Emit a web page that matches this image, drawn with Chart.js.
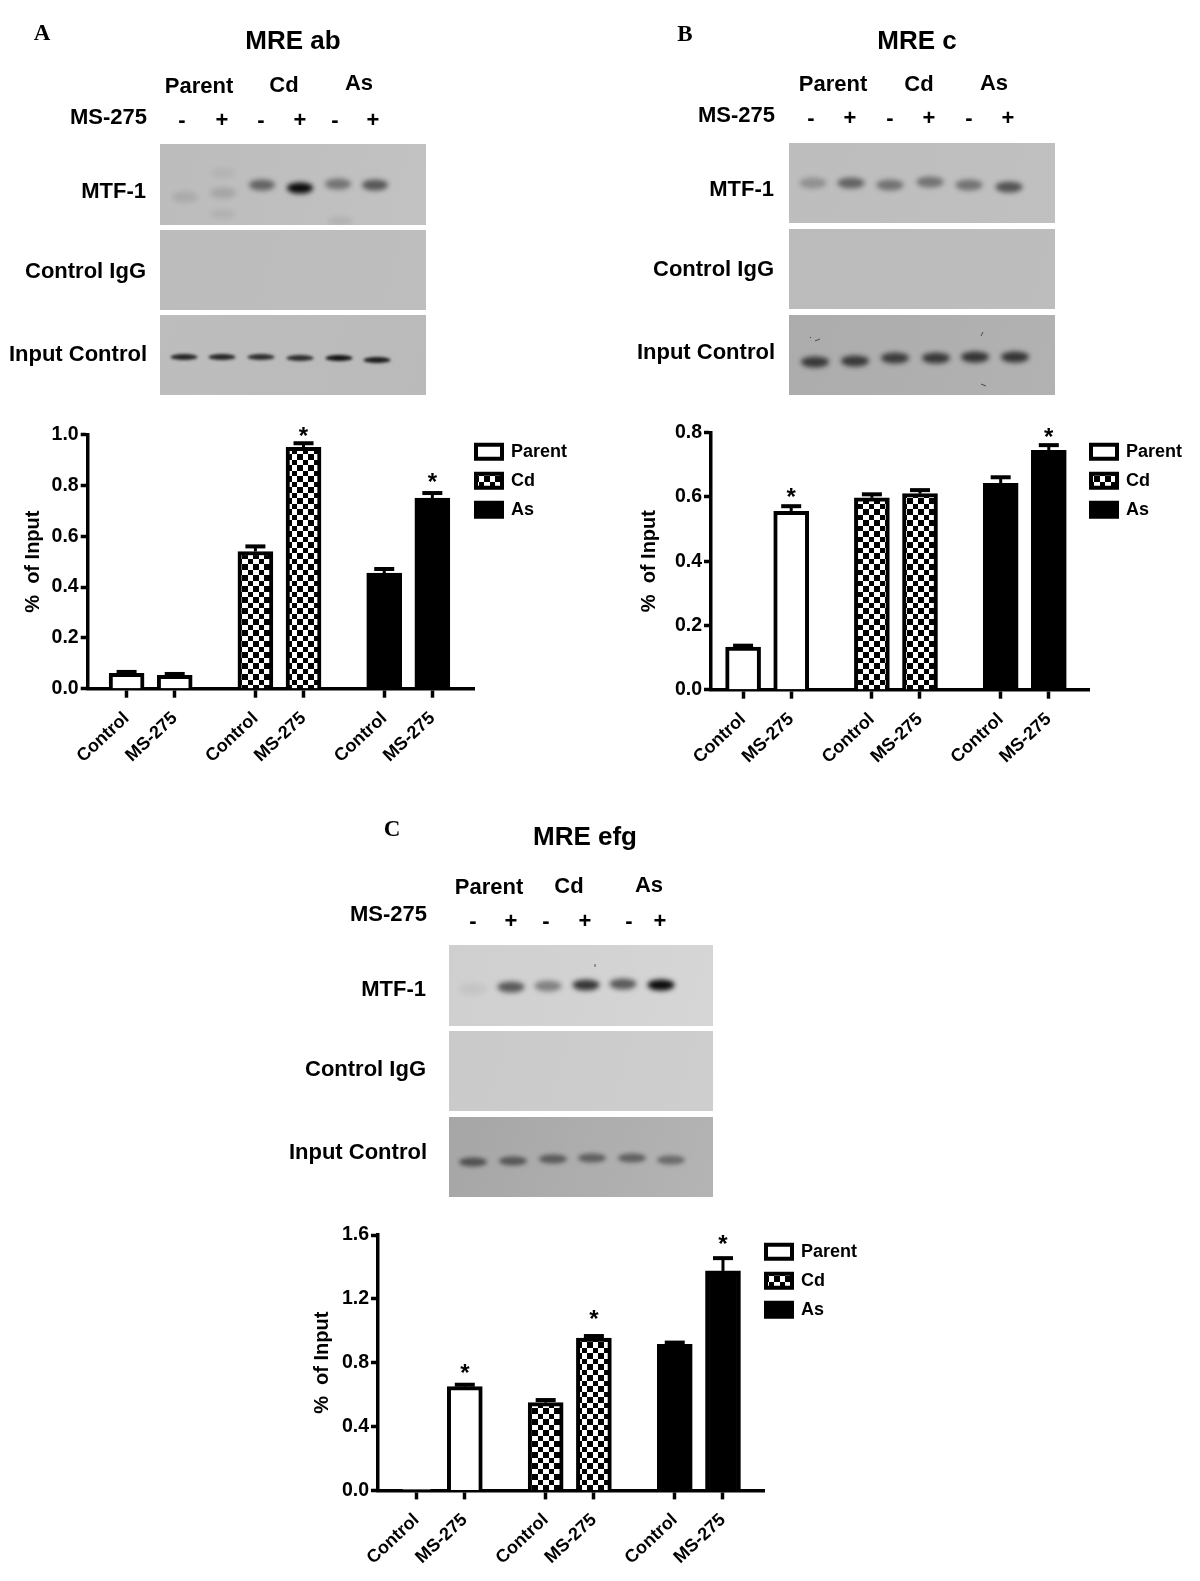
<!DOCTYPE html>
<html>
<head>
<meta charset="utf-8">
<title>MTF-1 ChIP</title>
<script src="https://cdn.jsdelivr.net/npm/chart.js@4"></script>
<style>
  html, body { margin: 0; background: #fff; }
  body { position: relative; width: 1200px; height: 1581px; overflow: hidden; font-family: "Liberation Sans", Arial, sans-serif; font-weight: bold; color: #000; }
  canvas { position: absolute; }
  .t { position: absolute; white-space: pre; line-height: 1; font-size: 22px; }
  .letter { font-family: "Liberation Serif", serif; font-size: 23px; }
  .title { font-size: 26px; }
</style>
</head>
<body>
<canvas id="gels" width="1200" height="1581" style="left:0;top:0"></canvas>
<canvas id="chartA" width="587" height="370" style="left:0;top:410px"></canvas>
<canvas id="chartB" width="592" height="370" style="left:610px;top:410px"></canvas>
<canvas id="chartC" width="587" height="360" style="left:290px;top:1210px"></canvas>
<script>
const barLabels = ['Control', 'MS-275'];
const groupNames = ['Parent', 'Cd', 'As'];

// panel A, MRE ab
const parentA = [0.06, 0.053];
const cdA = [0.54, 0.95];
const asA = [0.455, 0.75];
const parentErrA = [0.006, 0.005];
const cdErrA = [0.02, 0.016];
const asErrA = [0.016, 0.02];
const starsA = [[0, 0], [0, 1], [0, 1]];
const ticksA = [0, 0.2, 0.4, 0.6, 0.8, 1.0];

// panel B, MRE c
const parentB = [0.133, 0.555];
const cdB = [0.597, 0.61];
const asB = [0.642, 0.745];
const parentErrB = [0.004, 0.016];
const cdErrB = [0.011, 0.011];
const asErrB = [0.019, 0.016];
const starsB = [[0, 1], [0, 0], [0, 1]];
const ticksB = [0, 0.2, 0.4, 0.6, 0.8];

// panel C, MRE efg
const parentC = [0.005, 0.65];
const cdC = [0.55, 0.955];
const asC = [0.915, 1.375];
const parentErrC = [0, 0.012];
const cdErrC = [0.016, 0.012];
const asErrC = [0.011, 0.08];
const starsC = [[0, 1], [0, 1], [0, 1]];
const ticksC = [0, 0.4, 0.8, 1.2, 1.6];

// band darkness per lane
const mtfA = [0.1, 0.13, 0.5, 1, 0.42, 0.58];
const mtfB = [0.25, 0.5, 0.42, 0.42, 0.42, 0.6];
const mtfC = [0.06, 0.6, 0.4, 0.78, 0.6, 1];
const inputA = [0.85, 0.85, 0.8, 0.8, 0.95, 0.9];
const inputB = [0.72, 0.72, 0.7, 0.72, 0.75, 0.75];
const inputC = [0.55, 0.52, 0.5, 0.48, 0.48, 0.42];

const groupStep = 2.677;
const checker = (() => {
  const c = document.createElement('canvas');
  c.width = c.height = 11;
  const x = c.getContext('2d');
  x.fillStyle = '#fff';
  x.fillRect(0, 0, 11, 11);
  x.fillStyle = '#000';
  x.fillRect(0, 0, 6, 6);
  x.fillRect(6, 6, 5, 5);
  return x.createPattern(c, 'repeat');
})();

const errorBars = {
  id: 'errorBars',
  afterLayout(chart) {
    chart.legend.left -= 10;
    chart.legend.top = 21.8;
  },
  afterDatasetsDraw(chart) {
    const { ctx, scales: { y } } = chart;
    ctx.save();
    ctx.strokeStyle = '#000';
    ctx.fillStyle = '#000';
    ctx.textAlign = 'center';
    ctx.textBaseline = 'middle';
    ctx.font = 'bold 24px "Liberation Sans"';
    chart.data.datasets.forEach((ds, d) => {
      chart.getDatasetMeta(d).data.forEach((bar, i) => {
        const top = y.getPixelForValue(ds.data[i].y + ds.errors[i]);
        if (ds.errors[i]) {
          ctx.lineWidth = 3;
          ctx.beginPath();
          ctx.moveTo(bar.x, bar.y);
          ctx.lineTo(bar.x, top);
          ctx.stroke();
          ctx.lineWidth = 4;
          ctx.beginPath();
          ctx.moveTo(bar.x - 10, top);
          ctx.lineTo(bar.x + 10, top);
          ctx.stroke();
        }
        if (ds.stars[i]) ctx.fillText('*', bar.x, top - ds.starLift);
      });
    });
    ctx.restore();
  }
};

function drawChart(id, o) {
  const positions = [];
  groupNames.forEach((g, gi) => barLabels.forEach((b, i) => positions.push(gi * groupStep + i)));
  const fills = ['#fff', checker, '#000'];
  new Chart(document.getElementById(id), {
    type: 'bar',
    data: {
      datasets: groupNames.map((name, g) => ({
        label: name,
        data: o.values[g].map((y, i) => ({ x: g * groupStep + i, y })),
        errors: o.errors[g],
        stars: o.stars[g],
        starLift: o.starLift[g],
        backgroundColor: fills[g],
        borderColor: '#000',
        borderWidth: 4,
        borderSkipped: 'bottom',
        barThickness: 35,
        grouped: false
      }))
    },
    plugins: [errorBars],
    options: {
      responsive: false,
      animation: false,
      events: [],
      layout: { autoPadding: false, padding: { top: o.top } },
      plugins: {
        tooltip: { enabled: false },
        legend: {
          position: 'right',
          align: 'start',
          labels: { boxWidth: 26, boxHeight: 14, padding: 11, color: '#000', font: { family: 'Liberation Sans', size: 18, weight: 'bold' } }
        }
      },
      scales: {
        x: {
          type: 'linear',
          offset: false,
          min: o.xMin,
          max: o.xMax,
          afterBuildTicks: s => { s.ticks = positions.map(value => ({ value })); },
          afterFit: s => { s.height = o.xHeight; },
          grid: { offset: false, drawOnChartArea: false, tickLength: 9, tickWidth: 3.5, tickColor: '#000' },
          border: { color: '#000', width: 3.5 },
          ticks: {
            autoSkip: false,
            minRotation: 43,
            maxRotation: 43,
            padding: 10,
            color: '#000',
            font: { family: 'Liberation Sans', size: 18, weight: 'bold' },
            callback: (v, i) => barLabels[i % 2]
          }
        },
        y: {
          min: 0,
          max: o.ticks[o.ticks.length - 1],
          afterBuildTicks: s => { s.ticks = o.ticks.map(value => ({ value })); },
          afterFit: s => { s.width = o.yWidth; },
          grid: { drawOnChartArea: false, tickLength: 7, tickWidth: 3.5, tickColor: '#000' },
          border: { color: '#000', width: 3.5 },
          title: { display: true, text: '%  of Input', color: '#000', padding: { top: o.titlePad, bottom: 0 }, font: { family: 'Liberation Sans', size: 20, weight: 'bold' } },
          ticks: {
            padding: 2,
            color: '#000',
            font: { family: 'Liberation Sans', size: 19.5, weight: 'bold' },
            callback: v => v.toFixed(1)
          }
        }
      }
    }
  });
}

drawChart('chartA', {
  values: [parentA, cdA, asA], errors: [parentErrA, cdErrA, asErrA], stars: starsA, ticks: ticksA, starLift: [0, 6, 10],
  top: 24.6, xHeight: 91.3, yWidth: 87.7, titlePad: 21, xMin: -0.808, xMax: 7.24
});
drawChart('chartB', {
  values: [parentB, cdB, asB], errors: [parentErrB, cdErrB, asErrB], stars: starsB, ticks: ticksB, starLift: [8, 0, 7],
  top: 22.6, xHeight: 90.3, yWidth: 101, titlePad: 27, xMin: -0.667, xMax: 7.21
});
drawChart('chartC', {
  values: [parentC, cdC, asC], errors: [parentErrC, cdErrC, asErrC], stars: starsC, ticks: ticksC, starLift: [10, 16, 13],
  top: 25, xHeight: 79.6, yWidth: 88, titlePad: 20.7, xMin: -0.80, xMax: 7.225
});

// the gel photos
const g = document.getElementById('gels').getContext('2d');

function gelRow(x0, x1, y0, y1, colA, colB) {
  const grad = g.createLinearGradient(x0, y0, x1, y1);
  grad.addColorStop(0, colA);
  grad.addColorStop(1, colB);
  g.fillStyle = grad;
  g.fillRect(x0, y0, x1 - x0, y1 - y0);
}

function bands(clip, lanes, ys, dark, w, h, blur) {
  g.save();
  g.beginPath();
  g.rect(clip[0], clip[1], clip[2] - clip[0], clip[3] - clip[1]);
  g.clip();
  g.filter = `blur(${blur}px)`;
  lanes.forEach((x, i) => {
    g.fillStyle = `rgba(10,10,10,${dark[i]})`;
    g.beginPath();
    g.ellipse(x, ys[i], w / 2, h / 2, 0, 0, Math.PI * 2);
    g.fill();
  });
  g.restore();
}

function specks(list) {
  g.strokeStyle = 'rgba(40,40,40,0.75)';
  g.lineWidth = 1;
  list.forEach(s => {
    g.beginPath();
    g.moveTo(s[0], s[1]);
    g.lineTo(s[0] + s[2], s[1] + s[3]);
    g.stroke();
  });
}

// A
gelRow(160, 426, 144, 225, '#bcbcbc', '#c2c2c2');
gelRow(160, 426, 230, 310, '#bcbcbc', '#bebebe');
gelRow(160, 426, 315, 395, '#bdbdbd', '#bababa');
bands([160, 144, 426, 225], [185, 223, 262, 300, 338, 375], [197, 193, 185, 188, 184, 185], mtfA, 26, 11, 2.8);
bands([160, 144, 426, 225], [223, 223, 340], [173, 214, 221], [0.06, 0.07, 0.08], 24, 9, 2.8);
bands([160, 315, 426, 395], [184, 222, 261, 300, 339, 377], [357, 357, 357, 358, 358, 360], inputA, 27, 6, 1.4);

// B
gelRow(789, 1055, 143, 223, '#bdbdbd', '#c0c0c0');
gelRow(789, 1055, 229, 309, '#bbbbbb', '#bdbdbd');
gelRow(789, 1055, 315, 395, '#acacac', '#b2b2b2');
bands([789, 143, 1055, 223], [813, 851, 890, 930, 969, 1009], [183, 183, 185, 182, 185, 187], mtfB, 27, 11, 2.8);
bands([789, 315, 1055, 395], [815, 855, 895, 936, 975, 1015], [362, 361, 358, 358, 357, 357], inputB, 28, 11, 2.5);
specks([[815, 341, 5, -2], [981, 336, 2, -4], [981, 384, 5, 2], [810, 337, 1, 1]]);

// C
gelRow(449, 713, 945, 1026, '#cfcfcf', '#d6d6d6');
gelRow(449, 713, 1031, 1111, '#cacaca', '#cecece');
gelRow(449, 713, 1117, 1197, '#a6a6a6', '#b4b4b4');
bands([449, 945, 713, 1026], [473, 511, 548, 586, 623, 661], [989, 987, 986, 985, 984, 985], mtfC, 27, 11, 2.8);
bands([449, 1117, 713, 1197], [473, 513, 553, 592, 632, 671], [1162, 1161, 1159, 1158, 1158, 1160], inputC, 28, 9, 2.2);
specks([[595, 964, 0, 3]]);

// text around the gels
function put(text, x, y, anchor, cls) {
  const el = document.createElement('div');
  el.className = 't ' + (cls || '');
  el.textContent = text;
  el.style.top = y + 'px';
  el.style.left = x + 'px';
  el.style.transform = anchor === 'right' ? 'translate(-100%,-50%)' : 'translate(-50%,-50%)';
  document.body.appendChild(el);
}

function blotText(o) {
  put(o.letter, o.letterAt[0], o.letterAt[1], 'center', 'letter');
  put(o.title, o.titleAt[0], o.titleAt[1], 'center', 'title');
  groupNames.forEach((n, i) => put(n, o.groupAt[i][0], o.groupAt[i][1], 'center'));
  put('MS-275', o.msAt[0], o.msAt[1], 'right');
  o.signX.forEach((x, i) => put(i % 2 ? '+' : '-', x, o.signY, 'center'));
  put('MTF-1', o.rowRight, o.rowY[0], 'right');
  put('Control IgG', o.rowRight, o.rowY[1], 'right');
  put('Input Control', o.rowRight + 1, o.rowY[2], 'right');
}

blotText({
  letter: 'A', letterAt: [42, 32], title: 'MRE ab', titleAt: [293, 40],
  groupAt: [[199, 86], [284, 85], [359, 83]], msAt: [147, 117],
  signX: [182, 222, 261, 300, 335, 373], signY: 120,
  rowRight: 146, rowY: [191, 271, 354]
});
blotText({
  letter: 'B', letterAt: [685, 33], title: 'MRE c', titleAt: [917, 40],
  groupAt: [[833, 84], [919, 84], [994, 83]], msAt: [775, 115],
  signX: [811, 850, 890, 929, 969, 1008], signY: 118,
  rowRight: 774, rowY: [189, 269, 352]
});
blotText({
  letter: 'C', letterAt: [392, 828], title: 'MRE efg', titleAt: [585, 836],
  groupAt: [[489, 887], [569, 886], [649, 885]], msAt: [427, 914],
  signX: [473, 511, 546, 585, 629, 660], signY: 921,
  rowRight: 426, rowY: [989, 1069, 1152]
});
</script>
</body>
</html>
